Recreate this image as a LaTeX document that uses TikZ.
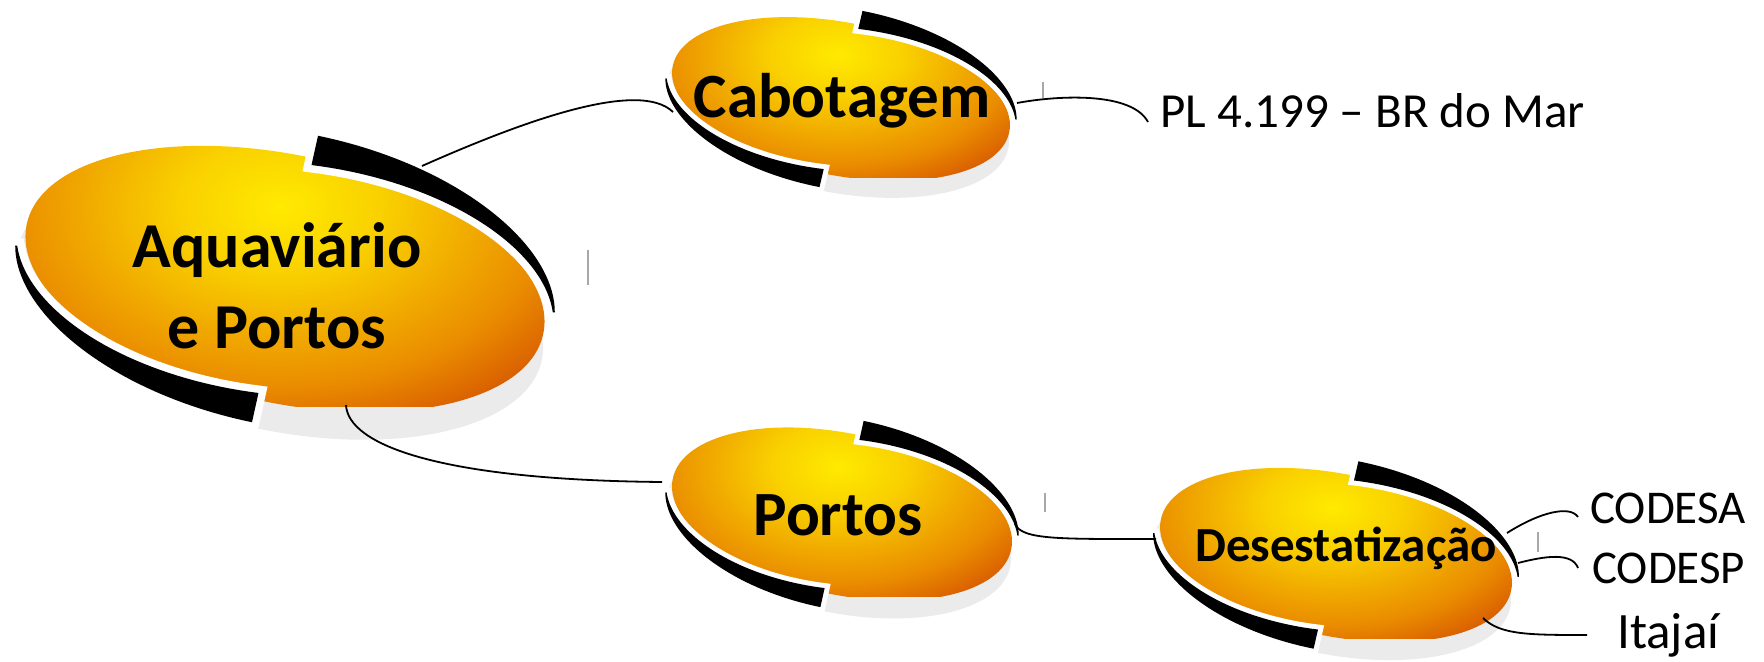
\documentclass[tikz,border=0pt]{standalone}
\usepackage{fontspec}
\setmainfont{Carlito}
\usetikzlibrary{calc}
\definecolor{oy0}{HTML}{FFEA00}
\definecolor{oy1}{HTML}{F9D000}
\definecolor{oy2}{HTML}{F2B000}
\definecolor{oy3}{HTML}{EA8C00}
\definecolor{oy4}{HTML}{DC6600}
\definecolor{oy5}{HTML}{C84200}
\definecolor{shadowgray}{HTML}{EBEBEB}
\definecolor{markgray}{HTML}{A8A8A8}
\pgfdeclareradialshading{orangeball}{\pgfpointorigin}{color(0bp)=(oy0); color(8.5bp)=(oy1); color(15bp)=(oy2); color(22.5bp)=(oy3); color(28bp)=(oy4); color(33bp)=(oy5); color(50bp)=(oy5)}
\tikzset{
  declare function={uu(\t)=(\t-10)/79.5; oin(\t)=9-16*uu(\t)^2; oout(\t)=oin(\t)+2+28*uu(\t);},
  conn/.style={draw=black, line width=1.8bp},
  bigtext/.style={font=\bfseries\fontsize{64bp}{81bp}\selectfont, align=center, inner sep=0pt},
  midtext/.style={font=\bfseries\fontsize{63bp}{70bp}\selectfont, inner sep=0pt},
  smalltext/.style={font=\bfseries\fontsize{49bp}{56bp}\selectfont, inner sep=0pt},
  leaftext/.style={font=\fontsize{47bp}{54bp}\selectfont, inner sep=0pt, anchor=base west},
  artmark/.style={draw=markgray, line width=1.6bp}
}
\newcommand\crescent{plot[domain=10:89.5, samples=40, variable=\t] ({(264+oin(\t))*cos(\t)}, {(124+oin(\t))*sin(\t)}) -- plot[domain=89.5:10, samples=40, variable=\t] ({(264+oout(\t))*cos(\t)}, {(124+oout(\t))*sin(\t)}) -- cycle}
\newcommand\bubble[5]{%
\begin{scope}[shift={(#1,#2)}, xscale=#3, yscale=#4]
  \begin{scope}[rotate=-12, yscale=-1]
    \fill[shadowgray] (0,-26) ellipse [x radius=268, y radius=126];
  \end{scope}
  \begin{scope}
    \clip[rotate=-12, yscale=-1] (0,0) ellipse [x radius=264, y radius=124];
    \shade[shading=orangeball] (-305,-273) rectangle (295,127);
  \end{scope}
  \begin{scope}[rotate=-12, yscale=-1]
    \fill[black, preaction={draw=white, line width=#5}] \crescent;
    \begin{scope}[rotate=180]
      \fill[black, preaction={draw=white, line width=#5}] \crescent;
    \end{scope}
  \end{scope}
\end{scope}}
\begin{document}
\begin{tikzpicture}[x=1bp, y=-1bp]
\useasboundingbox (0,0) rectangle (1764,662);
\fill[white] (0,0) rectangle (1764,662);
% bubbles
\bubble{285}{279}{1}{1}{15}
\bubble{841}{99}{0.651}{0.615}{10}
\bubble{842}{514}{0.655}{0.65}{10}
\bubble{1336}{555}{0.678}{0.654}{10}
% faint marks
\draw[artmark] (588,250) -- (588,285);
\draw[artmark] (1043,82) -- (1043,98);
\draw[artmark] (1045,493) -- (1045,512);
\draw[artmark] (1538,532) -- (1538,552);
% texts
\node[bigtext, anchor=base] (aqua) at (277,348) {Aquaviário\\e Portos};
\node[midtext, anchor=base] (cabo) at (842,118) {Cabotagem};
\node[midtext, anchor=base] (portos) at (838,535) {Portos};
\node[smalltext, anchor=base] (desest) at (1346,561) {Desestatização};
\node[leaftext, font=\fontsize{49bp}{56bp}\selectfont] (pl) at (1160,128) {PL 4.199 – BR do Mar};
\node[leaftext] (codesa) at (1590,523) {CODESA};
\node[leaftext] (codesp) at (1592,583) {CODESP};
\node[leaftext, font=\fontsize{51bp}{58bp}\selectfont] (itajai) at (1617,648) {Itajaí};
% attachment points
\coordinate (aqua-ne) at (422,166);
\coordinate (aqua-s) at (346,405);
\coordinate (cabo-w) at (673,112);
\coordinate (cabo-e) at (1017,103);
\coordinate (portos-w) at (662,482);
\coordinate (portos-e) at (1015,524);
\coordinate (desest-w) at (1156,539);
\coordinate (desest-e1) at (1507,533);
\coordinate (desest-e2) at (1518,563);
\coordinate (desest-e3) at (1483,618);
\coordinate (pl-w) at (1148,122);
\coordinate (codesa-w) at (1578,517);
\coordinate (codesp-w) at (1578,568);
\coordinate (itajai-w) at (1587,635);
% connectors
\draw[conn] (aqua-ne) .. controls (530,118) and (640,80) .. (cabo-w);
\draw[conn] (cabo-e) .. controls (1060,95) and (1132,92) .. (pl-w);
\draw[conn] (aqua-s) .. controls (348,445) and (440,480) .. (portos-w);
\draw[conn] (portos-e) .. controls (1022,540) and (1060,539) .. (desest-w);
\draw[conn] (desest-e1) .. controls (1540,512) and (1570,505) .. (codesa-w);
\draw[conn] (desest-e2) .. controls (1545,556) and (1572,552) .. (codesp-w);
\draw[conn] (desest-e3) .. controls (1500,635) and (1530,635) .. (itajai-w);
\end{tikzpicture}
\end{document}
